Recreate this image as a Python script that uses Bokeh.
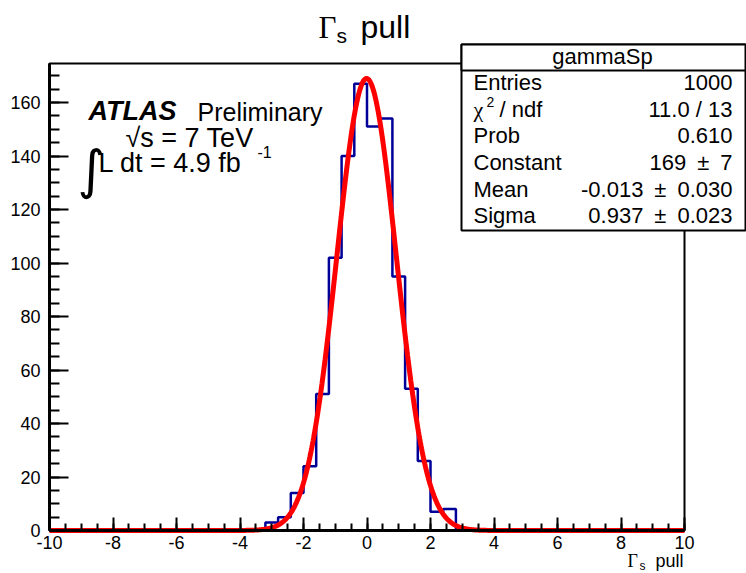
import numpy as np
from bokeh.plotting import figure
from bokeh.models import Range1d, SingleIntervalTicker, Label, BoxAnnotation
from bokeh.embed import file_html
from bokeh.resources import INLINE

# ---------------- data ----------------
bin_edges_lo = -10.0
bin_width = 0.4
counts = [0] * 17 + [3, 5, 14, 24, 51, 102, 140, 167, 151, 154, 95, 53, 26, 7, 8] + [0] * 18
x_ticks_major = [-10, -8, -6, -4, -2, 0, 2, 4, 6, 8, 10]
y_ticks_major = [0, 20, 40, 60, 80, 100, 120, 140, 160]
fit_constant = 169.0
fit_mean = -0.013
fit_sigma = 0.937
stats_names = ["Entries", "", "Prob", "Constant", "Mean", "Sigma"]
stats_values = ["1000", "11.0 / 13", "0.610", "169\u2002\u00b1\u20027",
                "-0.013\u2002\u00b1\u20020.030", "0.937\u2002\u00b1\u20020.023"]

# ---------------- geometry (pixels of the reference picture) ----------------
W, H = 746, 573
FL, FR, FT, FB = 49, 684, 63, 530
X0, X1 = -10.0, 10.0
Y0, Y1 = 0.0, 174.6


def dx(px):
    return X0 + (px - FL) / (FR - FL) * (X1 - X0)


def dy(py):
    return Y0 + (FB - py) / (FB - FT) * (Y1 - Y0)


p = figure(width=W, height=H, output_backend="svg", toolbar_location=None,
           x_range=Range1d(dx(0), dx(W)), y_range=Range1d(dy(H), dy(0)),
           min_border_left=0, min_border_right=0, min_border_top=0, min_border_bottom=0)
p.title.visible = False
p.xgrid.visible = False
p.ygrid.visible = False
p.background_fill_color = "white"
p.border_fill_color = "white"
p.outline_line_color = None

# frame of the histogram pad
p.add_layout(BoxAnnotation(left=X0, right=X1, bottom=Y0, top=Y1, fill_alpha=0,
                           line_color="black", line_alpha=1, line_width=2, level="underlay"))

for ax, interval, mj, mn, ticks in ((p.xaxis, 2, 13, 7, x_ticks_major),
                                    (p.yaxis, 20, 19, 10, y_ticks_major)):
    ax.ticker = SingleIntervalTicker(interval=interval, num_minor_ticks=4)
    ax.axis_line_width = 3
    ax.axis_line_color = "black"
    ax.major_tick_in = mj
    ax.major_tick_out = 0
    ax.minor_tick_in = mn
    ax.minor_tick_out = 0
    ax.major_tick_line_width = 2
    ax.minor_tick_line_width = 2
    ax.major_label_text_font = "Liberation Sans"
    ax.major_label_text_font_size = "18px"
    ax.major_label_text_color = "black"
    ax.major_label_overrides = {t: str(t) for t in ticks}
p.xaxis.fixed_location = Y0
p.xaxis.bounds = (X0, X1)
p.yaxis.fixed_location = X0
p.yaxis.bounds = (Y0, Y1)
p.xaxis.major_label_standoff = 5
p.yaxis.major_label_standoff = 9

# histogram
edges = [bin_edges_lo + i * bin_width for i in range(len(counts) + 1)]
p.step(x=edges, y=counts + [counts[-1]], mode="after", line_color="#000099", line_width=2.5)

# fit function drawn from its fitted parameters
xf = np.linspace(X0, X1, 1001)
yf = fit_constant * np.exp(-0.5 * ((xf - fit_mean) / fit_sigma) ** 2)
p.line(xf, yf, line_color="#ff0000", line_width=5)


def lab(text, px, py, size, font="Liberation Sans", style="normal", align="left", color="black"):
    # py is the wanted baseline in picture pixels
    p.add_layout(Label(x=dx(px), y=dy(py - 0.36 * size), text=text, text_font=font,
                       text_font_size=f"{size}px", text_font_style=style, text_align=align,
                       text_baseline="alphabetic", text_color=color))


# title
lab("\u0393", 318, 38, 31, font="Liberation Serif")
lab("s", 336, 43, 21)
lab("pull", 360, 38, 32)

# x axis title
lab("\u0393", 627, 567, 18, font="Liberation Serif")
lab("s", 639, 570, 12)
lab("pull", 683, 567, 18, align="right")

# ATLAS label
lab("ATLAS", 88, 120, 27, style="bold italic")
lab("Preliminary", 197, 120, 25)
lab("\u221as = 7 TeV", 125, 147, 27)
lab("\u222b", 77, 188, 53, font="DejaVu Sans")
lab("L dt = 4.9 fb", 98, 172, 27)
lab("-1", 257, 157, 16)

# stats box
p.add_layout(BoxAnnotation(left=dx(461), right=dx(745), top=dy(44), bottom=dy(230),
                           fill_color="white", fill_alpha=1, line_color="black", line_alpha=1,
                           line_width=2, level="annotation"))
p.add_layout(BoxAnnotation(left=dx(461), right=dx(745), top=dy(44), bottom=dy(70),
                           fill_color="white", fill_alpha=1, line_color="black", line_alpha=1,
                           line_width=2, level="annotation"))
lab("gammaSp", 602, 64, 22, align="center")
row_base = [90, 117, 143, 170, 197, 223]
for name, val, yb in zip(stats_names, stats_values, row_base):
    if name:
        lab(name, 473, yb, 22)
    lab(val, 732, yb, 22, align="right")
lab("\u03c7", 473, 117, 22, font="Liberation Serif")
lab("2", 486, 107, 14)
lab("/ ndf", 499, 117, 22)

open("out.html", "w").write(file_html(p, INLINE))
